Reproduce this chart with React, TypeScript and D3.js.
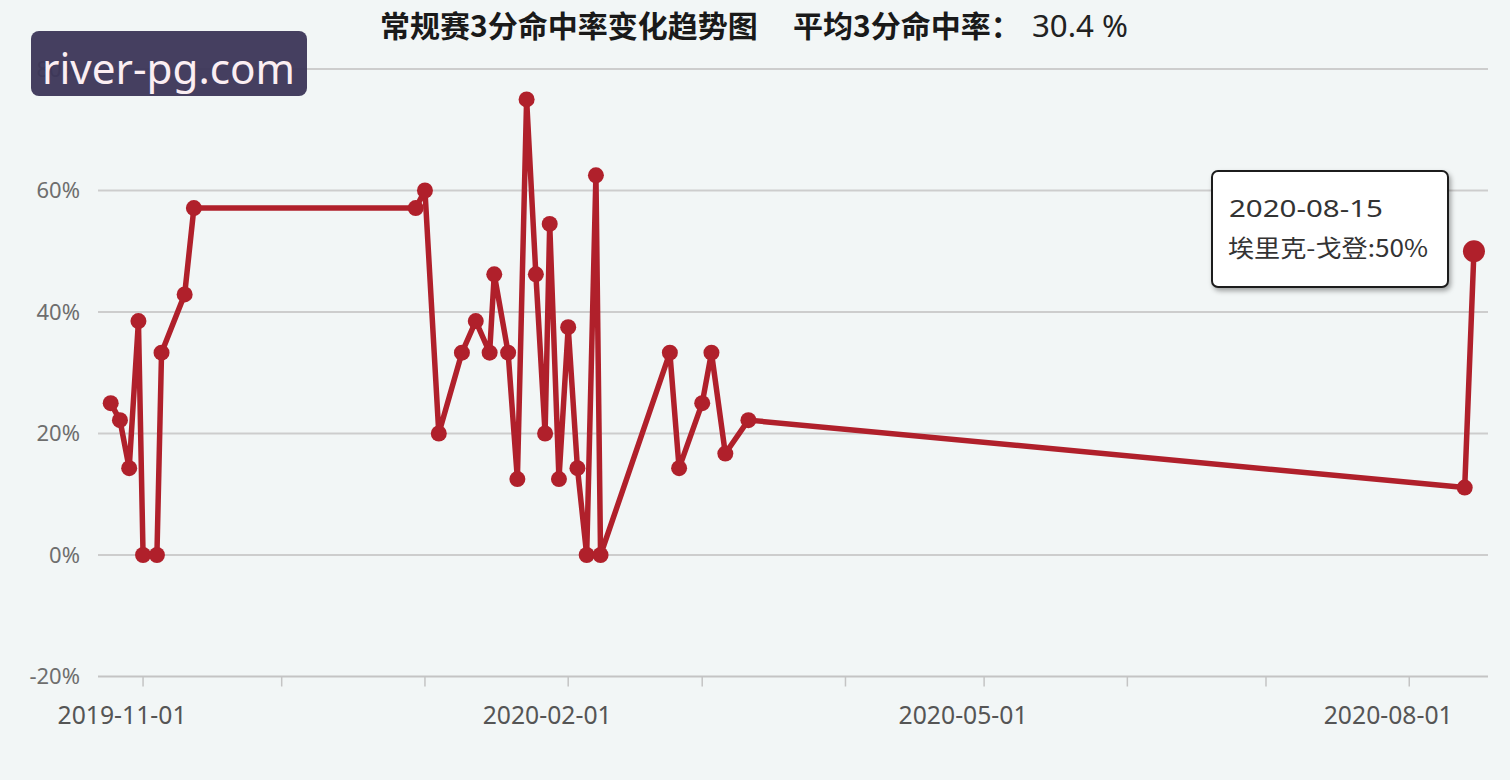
import React from "react";
import * as d3 from "d3";

// ---- data ----
const gameDates: string[] = [
  "2019-10-25", "2019-10-27", "2019-10-29", "2019-10-31", "2019-11-01", "2019-11-04",
  "2019-11-05", "2019-11-10", "2019-11-12", "2019-12-30", "2020-01-01", "2020-01-04",
  "2020-01-09", "2020-01-12", "2020-01-15", "2020-01-16", "2020-01-19", "2020-01-21",
  "2020-01-23", "2020-01-25", "2020-01-27", "2020-01-28", "2020-01-30", "2020-02-01",
  "2020-02-03", "2020-02-05", "2020-02-07", "2020-02-08", "2020-02-23", "2020-02-25",
  "2020-03-01", "2020-03-03", "2020-03-06", "2020-03-11", "2020-08-13", "2020-08-15",
];
const threePct: number[] = [
  25, 22.2, 14.3, 38.5, 0, 0,
  33.3, 42.9, 57.1, 57.1, 60, 20,
  33.3, 38.5, 33.3, 46.2, 33.3, 12.5,
  75, 46.2, 20, 54.5, 12.5, 37.5,
  14.3, 0, 62.5, 0, 33.3, 14.3,
  25, 33.3, 16.7, 22.2, 11.1, 50,
];
const playerName = "埃里克-戈登";
const yTicks: number[] = [-20, 0, 20, 40, 60, 80];
const xLabelDates: string[] = ["2019-11-01", "2020-02-01", "2020-05-01", "2020-08-01"];
const titleMain = "常规赛3分命中率变化趋势图";
const titleAvgLabel = "平均3分命中率：";
const titleAvgValue = "30.4 %";
const watermark = "river-pg.com";

const W = 1510;
const H = 780;
const parse = d3.timeParse("%Y-%m-%d");

export default function App() {
  const x = d3
    .scaleTime()
    .domain([new Date(2019, 9, 22, 6), new Date(2020, 7, 18, 1)])
    .range([98, 1488]);
  const y = d3.scaleLinear().domain([-20, 80]).range([676.5, 69]);

  const pts = gameDates.map((d, i) => ({ date: parse(d) as Date, v: threePct[i], s: d }));
  const line = d3
    .line<{ date: Date; v: number }>()
    .x((d) => x(d.date))
    .y((d) => y(d.v));

  const monthTicks = d3.timeMonth.range(new Date(2019, 10, 1), new Date(2020, 7, 2));
  const last = pts[pts.length - 1];
  const red = "#b0202b";
  const font = "'Noto Sans', 'Noto Sans CJK SC', sans-serif";
  const cjk = "'Noto Sans CJK SC', 'Noto Sans', sans-serif";
  const [x0, x1] = x.range();

  return (
    <svg
      width={W}
      height={H}
      style={{ position: "absolute", left: 0, top: 0, display: "block" }}
    >
      <defs>
        <filter id="tipShadow" x="-10%" y="-10%" width="130%" height="140%">
          <feDropShadow dx="2" dy="3" stdDeviation="2.5" floodColor="#000" floodOpacity="0.35" />
        </filter>
      </defs>
      <rect x={0} y={0} width={W} height={H} fill="#f2f6f6" />

      {/* grid lines */}
      {yTicks.map((t) => (
        <line
          key={t}
          x1={x0}
          x2={x1}
          y1={y(t)}
          y2={y(t)}
          stroke={t === -20 ? "#c4c4c4" : "#cdcdcd"}
          strokeWidth={2}
        />
      ))}
      {/* y labels */}
      {yTicks.map((t) => (
        <text
          key={"yl" + t}
          x={80}
          y={y(t)}
          dy="0.36em"
          textAnchor="end"
          fontFamily={font}
          fontSize={22}
          fill="#6e6e6e"
        >
          {t}%
        </text>
      ))}
      {/* x ticks */}
      {monthTicks.map((d) => (
        <line
          key={d.toISOString()}
          x1={x(d)}
          x2={x(d)}
          y1={y(-20)}
          y2={y(-20) + 10}
          stroke="#c4c4c4"
          strokeWidth={1.5}
        />
      ))}
      {/* x labels */}
      {xLabelDates.map((s) => (
        <text
          key={s}
          x={x(parse(s) as Date) - 21}
          y={724}
          textAnchor="middle"
          fontFamily={font}
          fontSize={25}
          fill="#555"
          textLength={129}
          lengthAdjust="spacingAndGlyphs"
        >
          {s}
        </text>
      ))}

      {/* series */}
      <path
        d={line(pts) || ""}
        fill="none"
        stroke={red}
        strokeWidth={5.5}
        strokeLinejoin="round"
        strokeLinecap="round"
      />
      {pts.map((p, i) => (
        <circle
          key={i}
          cx={x(p.date)}
          cy={y(p.v)}
          r={i === pts.length - 1 ? 11 : 8}
          fill={red}
        />
      ))}

      {/* title */}
      <text x={380} y={37} fontFamily={cjk} fontWeight={700} fontSize={30} fill="#1a1a1a">
        {titleMain}
      </text>
      <text x={793} y={37} fontFamily={cjk} fontWeight={700} fontSize={30} fill="#1a1a1a">
        {titleAvgLabel}
      </text>
      <text
        x={1032}
        y={37}
        fontFamily={font}
        fontSize={30}
        fill="#222"
        textLength={96}
        lengthAdjust="spacingAndGlyphs"
      >
        {titleAvgValue}
      </text>

      {/* watermark */}
      <rect x={31} y={31} width={276} height={65} rx={8} fill="#3b3557" opacity={0.95} />
      <text
        x={42}
        y={84}
        fontFamily={font}
        fontSize={42}
        fill="#fbeef2"
        textLength={253}
        lengthAdjust="spacingAndGlyphs"
      >
        {watermark}
      </text>

      {/* tooltip */}
      <g>
        <rect
          x={1212}
          y={171}
          width={236}
          height={116}
          rx={6}
          fill="#fff"
          stroke="#1e1e1e"
          strokeWidth={2}
          filter="url(#tipShadow)"
        />
        <text
          x={1229}
          y={217}
          fontFamily={font}
          fontSize={24}
          fill="#333"
          textLength={154}
          lengthAdjust="spacingAndGlyphs"
        >
          {last.s}
        </text>
        <text
          x={1228}
          y={257}
          fontFamily={cjk}
          fontSize={24}
          fill="#333"
          textLength={200}
          lengthAdjust="spacingAndGlyphs"
        >
          {playerName}:{last.v}%
        </text>
      </g>
    </svg>
  );
}
